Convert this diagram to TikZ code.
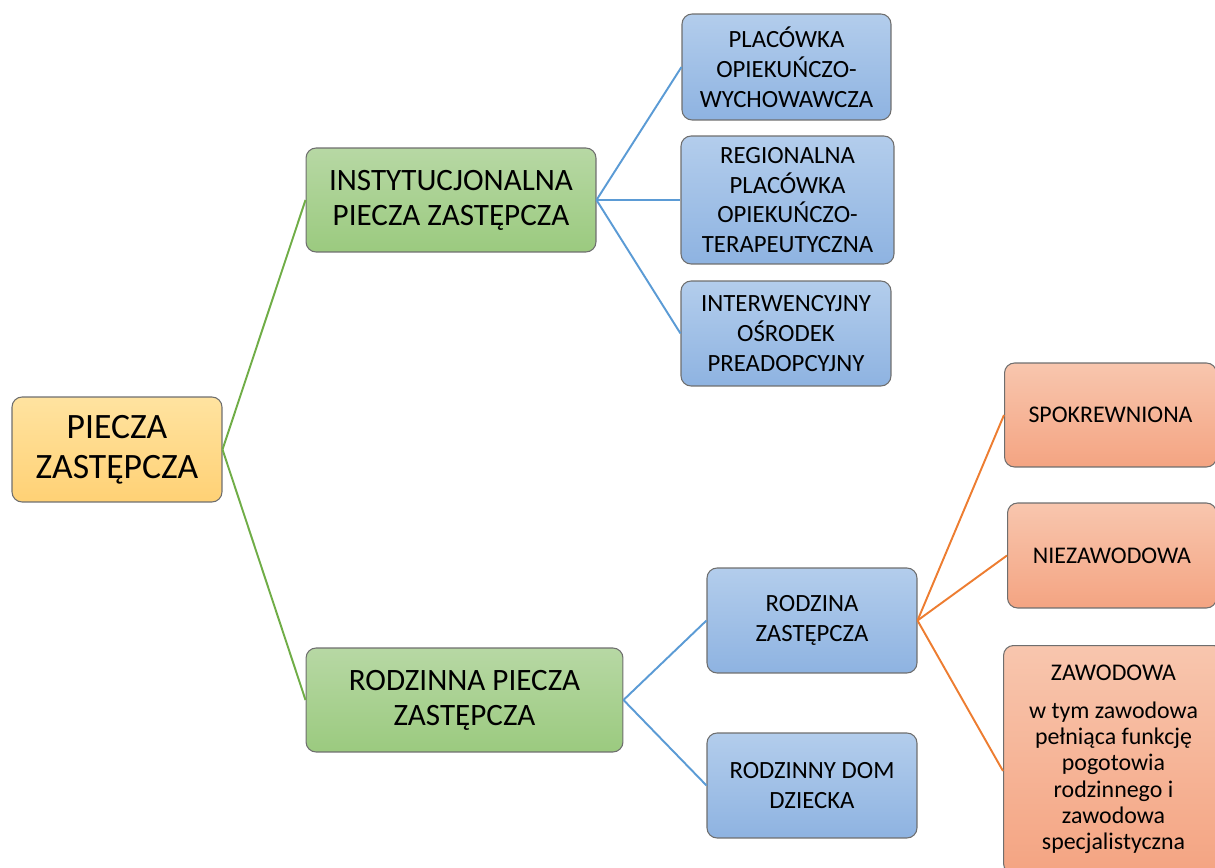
\documentclass[tikz,border=0pt]{standalone}
\usepackage{fontspec}
\setmainfont{Carlito}
\usetikzlibrary{shapes,backgrounds}

\definecolor{rootTop}{HTML}{FFE3A0}
\definecolor{rootBot}{HTML}{FFD175}
\definecolor{grTop}{HTML}{B7D8A4}
\definecolor{grBot}{HTML}{9BCA7F}
\definecolor{blTop}{HTML}{B3CDEC}
\definecolor{blBot}{HTML}{8EB3E1}
\definecolor{orTop}{HTML}{F8C6AE}
\definecolor{orBot}{HTML}{F4A482}
\definecolor{edgeGray}{HTML}{6E6E6E}
\definecolor{lnGreen}{HTML}{70AD47}
\definecolor{lnBlue}{HTML}{5B9BD5}
\definecolor{lnOrange}{HTML}{ED7D31}

\tikzset{
  box/.style={draw=edgeGray, line width=0.6pt, rounded corners=0.2cm, align=center, inner sep=2pt},
  rootbox/.style={box, top color=rootTop, bottom color=rootBot, font=\fontsize{20.3}{22.7}\selectfont},
  grbox/.style={box, top color=grTop, bottom color=grBot, font=\fontsize{17.7}{20}\selectfont},
  blbox/.style={box, top color=blTop, bottom color=blBot, font=\fontsize{14.1}{17}\selectfont},
  orbox/.style={box, top color=orTop, bottom color=orBot, font=\fontsize{13.6}{15}\selectfont},
  gline/.style={lnGreen, line width=1.1pt},
  bline/.style={lnBlue, line width=1.1pt},
  oline/.style={lnOrange, line width=1.1pt}
}

\begin{document}
\begin{tikzpicture}[x=0.02cm, y=-0.02cm]
\useasboundingbox (0,0) rectangle (1215,868);

% level 0
\node[rootbox, minimum width=4.2cm, minimum height=2.1cm] (root) at (117,449.5) {PIECZA\\ZASTĘPCZA};

% level 1
\node[grbox, minimum width=5.8cm, minimum height=2.08cm] (inst) at (451,200) {INSTYTUCJONALNA\\PIECZA ZASTĘPCZA};
\node[grbox, minimum width=6.34cm, minimum height=2.08cm] (rodz) at (464.5,700) {RODZINNA PIECZA\\ZASTĘPCZA};

% institutional branch
\node[blbox, minimum width=4.18cm, minimum height=2.12cm] (plac) at (786.5,67) {PLACÓWKA\\OPIEKUŃCZO-\\WYCHOWAWCZA};
\node[blbox, minimum width=4.26cm, minimum height=2.56cm] (regio) at (787.5,200) {REGIONALNA\\PLACÓWKA\\OPIEKUŃCZO-\\TERAPEUTYCZNA};
\node[blbox, minimum width=4.2cm, minimum height=2.1cm] (inter) at (786,333.5) {INTERWENCYJNY\\OŚRODEK\\PREADOPCYJNY};

% family branch
\node[blbox, minimum width=4.2cm, minimum height=2.1cm] (rzast) at (812,620.5) {RODZINA\\ZASTĘPCZA};
\node[blbox, minimum width=4.2cm, minimum height=2.1cm] (rdom) at (812,785.5) {RODZINNY DOM\\DZIECKA};

\node[orbox, minimum width=4.24cm, minimum height=2.08cm, anchor=west] (spok) at (1004,415) {SPOKREWNIONA};
\node[orbox, minimum width=4.18cm, minimum height=2.1cm, anchor=west] (niez) at (1007,555.5) {NIEZAWODOWA};
\node[orbox, minimum width=4.4cm, minimum height=4.56cm, anchor=north west] (zaw) at (1003,645)
  {ZAWODOWA\\[6.5pt]w tym zawodowa\\pełniąca funkcję\\pogotowia\\rodzinnego i\\zawodowa\\specjalistyczna};

% connectors
\draw[gline] (root.east) -- (inst.west);
\draw[gline] (root.east) -- (rodz.west);
\foreach \t in {plac,regio,inter}
  \draw[bline] (inst.east) -- (\t.west);
\foreach \t in {rzast,rdom}
  \draw[bline] (rodz.east) -- (\t.west);
\draw[oline] (rzast.east) -- (spok.west);
\draw[oline] (rzast.east) -- (niez.west);
\draw[oline] (rzast.east) -- ([yshift=-0.23cm]zaw.west);
\end{tikzpicture}
\end{document}
